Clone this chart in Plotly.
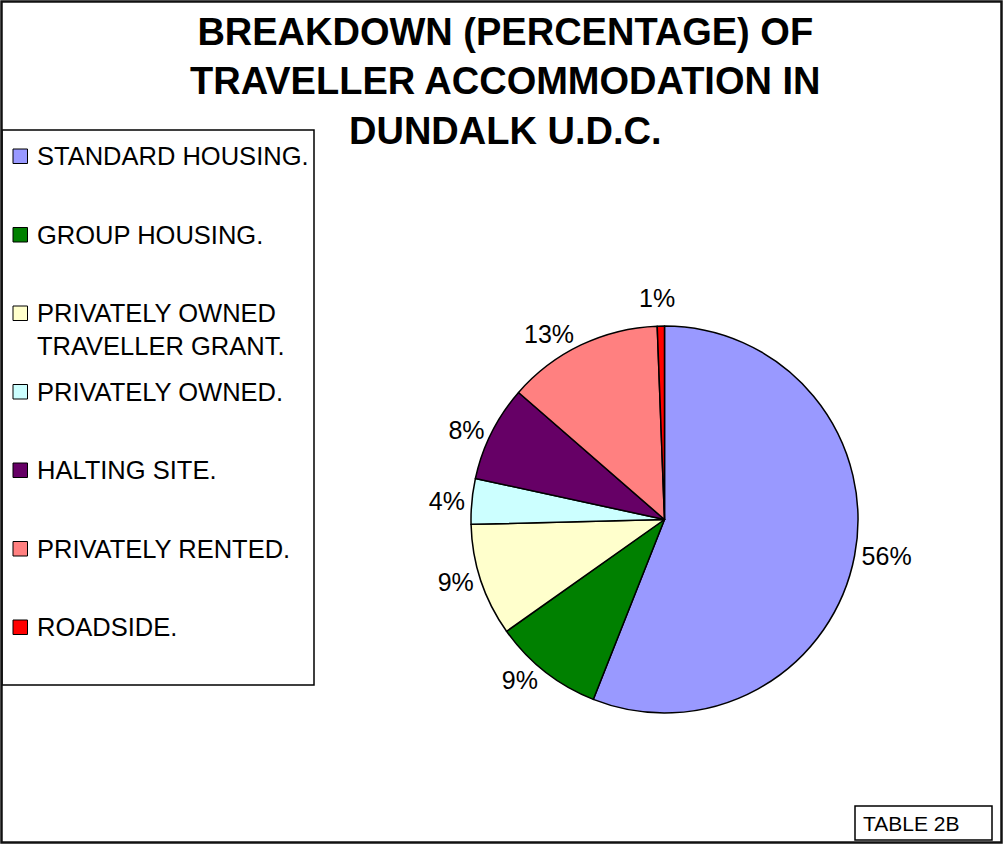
import math
import plotly.graph_objects as go

# ---- data ----
categories = [
    "STANDARD HOUSING.",
    "GROUP HOUSING.",
    "PRIVATELY OWNED<br>TRAVELLER GRANT.",
    "PRIVATELY OWNED.",
    "HALTING SITE.",
    "PRIVATELY RENTED.",
    "ROADSIDE.",
]
values = [56.0, 9.2, 9.4, 3.8, 8.0, 13.0, 0.6]
colors = ["#9999FF", "#008000", "#FFFFCC", "#CCFFFF", "#660066", "#FF8080", "#FF0000"]
title_lines = ["BREAKDOWN (PERCENTAGE) OF", "TRAVELLER ACCOMMODATION IN", "DUNDALK U.D.C."]
table_label = "TABLE 2B"

W, H = 1003, 844
FONT = "Arial, Liberation Sans, sans-serif"

def px_x(x):
    return x / W

def px_y(y):
    return 1 - y / H

cx, cy, r = 664.5, 519.5, 193.5
total = sum(values)

# the last (tiny) slice gets its label as an annotation so plotly does not
# draw a leader line for it; all other labels are drawn by the pie itself
templates = ["%{percent:.0%}"] * (len(values) - 1) + [""]

fig = go.Figure()
fig.add_trace(go.Pie(
    labels=categories,
    values=values,
    sort=False,
    direction="clockwise",
    rotation=0,
    marker=dict(colors=colors, line=dict(color="black", width=1.5)),
    textposition="outside",
    texttemplate=templates,
    textfont=dict(family=FONT, size=25, color="black"),
    showlegend=False,
    hoverinfo="label+percent",
    domain=dict(x=[px_x(cx - r), px_x(cx + r)], y=[px_y(cy + r), px_y(cy - r)]),
))

shapes = []
annotations = []

# label for the tiny last slice, placed from its mid-angle
cum_before = sum(values[:-1])
mid_frac = (cum_before + values[-1] / 2) / total
theta = 2 * math.pi * mid_frac
lx = cx + (r + 16) * math.sin(theta)
ly = cy - (r + 12) * math.cos(theta)
annotations.append(dict(
    xref="paper", yref="paper", x=px_x(lx - 4), y=px_y(ly),
    xanchor="center", yanchor="bottom", showarrow=False,
    text=f"{round(100 * values[-1] / total)}%",
    font=dict(family=FONT, size=25, color="black"),
))

# page border
shapes.append(dict(type="rect", xref="paper", yref="paper",
                   x0=px_x(1.5), x1=px_x(1001.5), y0=px_y(842.5), y1=px_y(1.5),
                   line=dict(color="#111111", width=2.5)))

# legend box
shapes.append(dict(type="rect", xref="paper", yref="paper",
                   x0=px_x(2), x1=px_x(314), y0=px_y(685), y1=px_y(130),
                   line=dict(color="black", width=1.5), fillcolor="white", layer="below"))

step = 78.5
for i, (cat, col) in enumerate(zip(categories, colors)):
    yc = 156 + step * i
    shapes.append(dict(type="rect", xref="paper", yref="paper",
                       x0=px_x(13), x1=px_x(27.5), y0=px_y(yc + 7.5), y1=px_y(yc - 7),
                       line=dict(color="black", width=1), fillcolor=col))
    nlines = cat.count("<br>") + 1
    annotations.append(dict(
        xref="paper", yref="paper", x=px_x(35), y=px_y(yc + 16 * (nlines - 1)),
        xanchor="left", yanchor="middle", align="left", showarrow=False,
        text=cat, font=dict(family=FONT, size=25.5, color="black"),
    ))

# title
annotations.append(dict(
    xref="paper", yref="paper", x=px_x(505), y=px_y(82),
    xanchor="center", yanchor="middle", align="center", showarrow=False,
    text="<b>" + "<br>".join(title_lines) + "</b>",
    font=dict(family=FONT, size=38, color="black"),
))

# table label box
shapes.append(dict(type="rect", xref="paper", yref="paper",
                   x0=px_x(855), x1=px_x(992), y0=px_y(840), y1=px_y(806),
                   line=dict(color="black", width=1.5)))
annotations.append(dict(
    xref="paper", yref="paper", x=px_x(861), y=px_y(823.5),
    xanchor="left", yanchor="middle", showarrow=False,
    text=table_label, font=dict(family=FONT, size=21, color="black"),
))

fig.update_layout(
    width=W, height=H,
    margin=dict(l=0, r=0, t=0, b=0),
    paper_bgcolor="white",
    plot_bgcolor="white",
    shapes=shapes,
    annotations=annotations,
    showlegend=False,
)

fig.write_html("out.html")
